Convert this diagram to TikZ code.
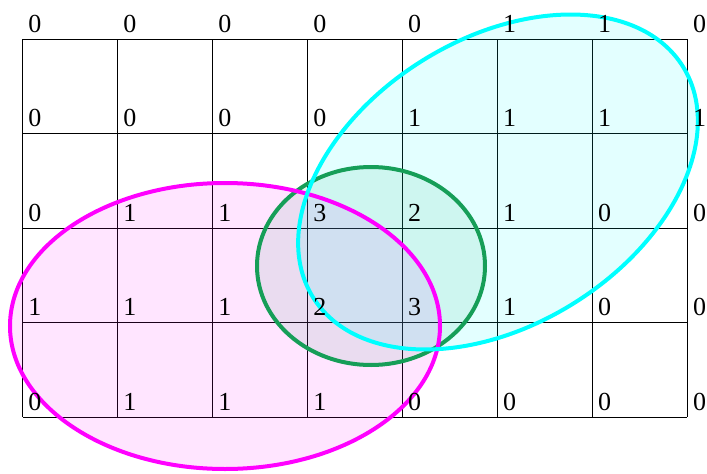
\documentclass[tikz,border=0pt]{standalone}
\usepackage{fontspec}
\setmainfont{Liberation Serif}
\definecolor{loopgreen}{RGB}{22,158,88}
\definecolor{loopmagenta}{RGB}{255,0,255}
\definecolor{loopcyan}{RGB}{0,255,255}
\begin{document}
\begin{tikzpicture}[x=1pt, y=-1pt]
    % Define styles
    \tikzstyle{cell} = [draw=black, line width=0.9pt]
    \tikzstyle{val} = [anchor=base west, inner sep=0pt, font=\fontsize{26}{30}\selectfont]
    \tikzstyle{loop} = [line width=4pt]
    \useasboundingbox (0,0) rectangle (707,474);

    % Grid of cells
    \foreach \col in {0,...,7}
        \draw [cell] (22.7+94.95*\col,39.3) -- (22.7+94.95*\col,417.3);
    \foreach \row in {0,...,4}
        \draw [cell] (22.7,39.3+94.5*\row) -- (687.3,39.3+94.5*\row);

    % Loops
    \fill [loopgreen, opacity=0.1] (371,266) ellipse [x radius=114pt, y radius=99pt];
    \fill [loopmagenta, opacity=0.1] (225,326) ellipse [x radius=215pt, y radius=143pt];
    \fill [loopcyan, opacity=0.11] (498,182) ellipse [x radius=218pt, y radius=143pt, rotate=32];
    \draw [loop, loopgreen] (371,266) ellipse [x radius=114pt, y radius=99pt];
    \draw [loop, loopmagenta] (225,326) ellipse [x radius=215pt, y radius=143pt];
    \draw [loop, loopcyan] (498,182) ellipse [x radius=218pt, y radius=143pt, rotate=32];

    % Values at the corners
    \foreach \row/\vals in {0/{0,0,0,0,0,1,1,0}, 1/{0,0,0,0,1,1,1,1},
                            2/{0,1,1,3,2,1,0,0}, 3/{1,1,1,2,3,1,0,0},
                            4/{0,1,1,1,0,0,0,0}}
        \foreach \v [count=\col from 0] in \vals
            \node [val] (v\row\col) at (28.2+94.95*\col,32.3+94.5*\row) {\v};
\end{tikzpicture}
\end{document}
